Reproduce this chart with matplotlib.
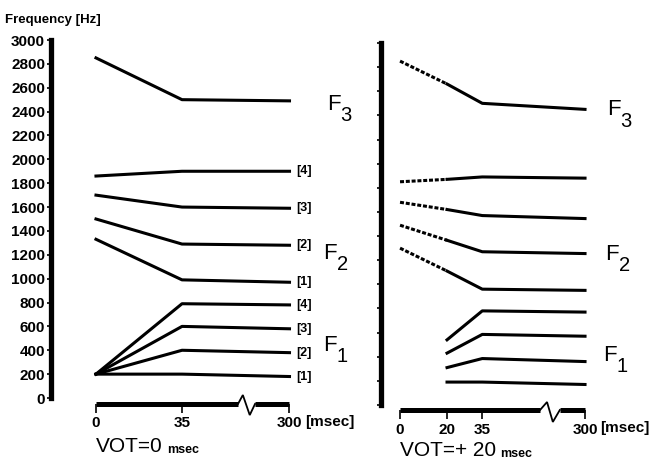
import matplotlib
matplotlib.use('Agg')
import matplotlib.pyplot as plt
import numpy as np

# ---- data (frequency in Hz, time in msec) ----
freq_ticks = list(range(0, 3001, 200))

# left panel: VOT = 0 msec
times_left = [0, 35, 300]
time_ticks_left = [0, 35, 300]
f3_left = [2850, 2500, 2490]
f2_left = [[1860, 1900, 1900], [1700, 1600, 1590], [1500, 1290, 1280], [1330, 990, 970]]
f1_left = [[200, 790, 780], [200, 600, 580], [200, 400, 380], [200, 200, 180]]
f2_names = ['[4]', '[3]', '[2]', '[1]']
f1_names = ['[4]', '[3]', '[2]', '[1]']

# right panel: VOT = +20 msec (dotted part = 0..20 msec)
times_right = [0, 20, 35, 300]
time_ticks_right = [0, 20, 35, 300]
f3_right = [2850, 2660, 2500, 2450]
f2_right = [[1850, 1870, 1890, 1880], [1680, 1620, 1570, 1545],
            [1490, 1365, 1270, 1255], [1300, 1110, 960, 950]]
times_f1_right = [20, 35, 300]
f1_right = [[540, 780, 770], [430, 585, 570], [310, 385, 360], [190, 190, 170]]

# time axis is broken after 35 msec
K = 0.165


def fwd(t):
    t = np.asarray(t, dtype=float)
    return np.where(t <= 35, t, 35 + (t - 35) * K)


def inv(u):
    u = np.asarray(u, dtype=float)
    return np.where(u <= 35, u, 35 + (u - 35) / K)


W, H = 654, 472
fig = plt.figure(figsize=(W / 100, H / 100), dpi=100)
fig.patch.set_facecolor('white')

LW = 2.2
BOLD = dict(family='Liberation Sans', weight='bold')
THIN = dict(family='Liberation Sans')


def setup(ax, xlim_units, ticks, bar_off, brk, zz):
    ax.set_xscale('function', functions=(fwd, inv))
    ax.set_xlim(float(inv(xlim_units[0])), float(inv(xlim_units[1])))
    ax.set_ylim(0, 3000)
    for s in ['top', 'right']:
        ax.spines[s].set_visible(False)
    ax.spines['left'].set_linewidth(3.8)
    ax.spines['left'].set_bounds(0, 3000)
    ax.set_yticks(freq_ticks)
    ax.tick_params(axis='y', direction='out', length=3.2, width=1.2, pad=1)

    sp = ax.spines['bottom']
    sp.set_position(('outward', bar_off))
    sp.set_linewidth(3.6)
    sp.set_bounds(0, brk[0])
    sp.set_capstyle('butt')
    ax.set_xticks(ticks)
    ax.set_xticklabels([str(t) for t in ticks], fontsize=11, **BOLD)
    ax.tick_params(axis='x', direction='out', length=6.5, width=1.2, pad=2.5)
    tr = sp.get_spine_transform()
    ax.plot([brk[0], brk[1], brk[2], brk[3]], [0, zz[0], zz[1], 0], color='black',
            lw=1.3, transform=tr, clip_on=False, solid_joinstyle='miter')
    ax.plot([brk[3], 300], [0, 0], color='black', lw=3.6, transform=tr,
            clip_on=False, solid_capstyle='butt')
    ax.annotate('[msec]', xy=(300, 0), xycoords=tr, xytext=(11, -13),
                textcoords='offset points', ha='left', va='center', fontsize=11, **BOLD)


def f_label(ax, xfrac, y, n, dx):
    tr = ax.get_yaxis_transform()
    ax.text(xfrac, y, 'F', transform=tr, fontsize=16, ha='left', va='center',
            clip_on=False, **THIN)
    ax.annotate(n, xy=(xfrac, y), xycoords=tr, xytext=(dx, -8), textcoords='offset points',
                fontsize=14.5, ha='left', va='center', **THIN)


# ---------------- left panel ----------------
ax1 = fig.add_axes([51 / W, 1 - 398 / H, 249 / W, 358 / H])
setup(ax1, (-18.3, 83.0), time_ticks_left, 4.3, [173, 185, 202, 215], [0.025, -0.031])
ax1.set_yticklabels([str(v) for v in freq_ticks], fontsize=11, **BOLD)

ax1.plot(times_left, f3_left, color='black', lw=LW, clip_on=False)
for vals, name in zip(f2_left, f2_names):
    ax1.plot(times_left, vals, color='black', lw=LW, clip_on=False)
    ax1.annotate(name, xy=(times_left[-1], vals[-1]), xytext=(5, 0), textcoords='offset points',
                 ha='left', va='center', fontsize=9, **BOLD)
for vals, name in zip(f1_left, f1_names):
    ax1.plot(times_left, vals, color='black', lw=LW, clip_on=False)
    ax1.annotate(name, xy=(times_left[-1], vals[-1]), xytext=(5, 0), textcoords='offset points',
                 ha='left', va='center', fontsize=9, **BOLD)

f_label(ax1, 1.108, 2460, '3', 9.5)
f_label(ax1, 1.092, 1210, '2', 10)
f_label(ax1, 1.092, 440, '1', 10)

fig.text(5 / W, 1 - 20 / H, 'Frequency [Hz]', fontsize=9.5, va='center', ha='left', **BOLD)

t1 = ax1.text(0, -0.151, 'VOT=0', transform=ax1.get_xaxis_transform(), fontsize=15,
              ha='left', va='baseline', **THIN)
ax1.annotate('msec', xy=(1, 0), xycoords=t1, xytext=(3, 0), textcoords='offset points',
             fontsize=9, ha='left', va='bottom', **BOLD)

# ---------------- right panel ----------------
ax2 = fig.add_axes([381 / W, 1 - 405 / H, 219 / W, 362 / H])
setup(ax2, (-8.1, 85.1), time_ticks_right, 3.6, [184, 202, 217, 235], [0.022, -0.033])
ax2.set_yticklabels([])

for vals in [f3_right] + f2_right:
    ax2.plot(times_right[:2], vals[:2], color='black', lw=LW, ls=(0, (1.3, 0.6)), clip_on=False)
    ax2.plot(times_right[1:], vals[1:], color='black', lw=LW, clip_on=False)
for vals in f1_right:
    ax2.plot(times_f1_right, vals, color='black', lw=LW, clip_on=False)

f_label(ax2, 1.032, 2445, '3', 9.5)
f_label(ax2, 1.023, 1250, '2', 10)
f_label(ax2, 1.014, 410, '1', 10)

t2 = ax2.text(0, -0.14, 'VOT=+ 20', transform=ax2.get_xaxis_transform(), fontsize=15,
              ha='left', va='baseline', **THIN)
ax2.annotate('msec', xy=(1, 0), xycoords=t2, xytext=(3, 0), textcoords='offset points',
             fontsize=9, ha='left', va='bottom', **BOLD)

fig.savefig('out.png', dpi=100, facecolor='white')
